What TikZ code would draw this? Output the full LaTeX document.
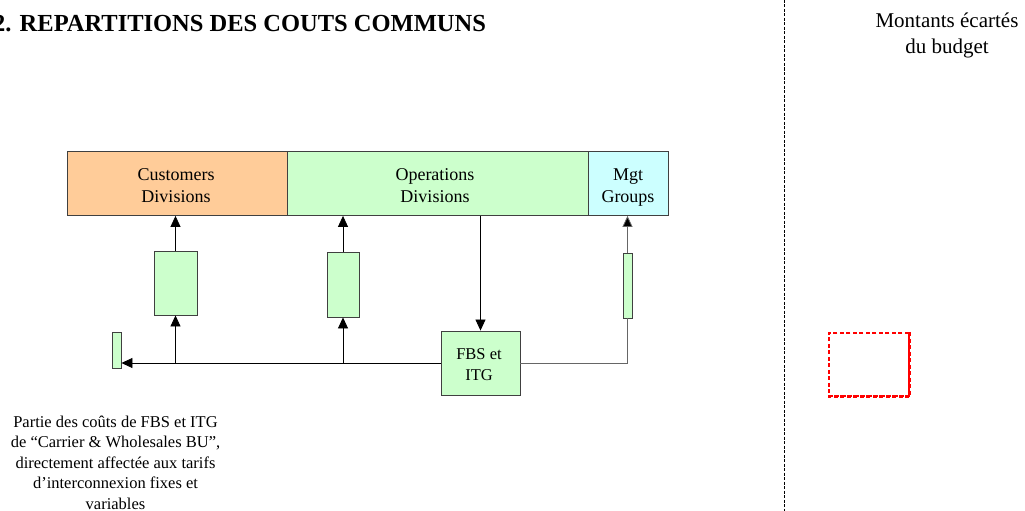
\documentclass[tikz,border=0pt]{standalone}
\usepackage{fontspec}
\setmainfont{Liberation Serif}
\usetikzlibrary{arrows.meta}

\definecolor{custorange}{HTML}{FFCC99}
\definecolor{opsgreen}{HTML}{CCFFCC}
\definecolor{mgtcyan}{HTML}{CCFFFF}
\definecolor{edgegray}{HTML}{404040}

\tikzset{
  unitbox/.style={draw=edgegray, line width=0.9pt, inner sep=0pt, anchor=north west},
  flowbox/.style={draw=edgegray, line width=0.9pt, fill=opsgreen, inner sep=0pt},
  link/.style={line width=0.8pt, draw=black},
  arr/.style={link, -{Triangle[length=11pt,width=10pt]}},
  boxtext/.style={anchor=base, align=center, inner sep=0pt, font=\fontsize{18}{22}\selectfont},
  smalltext/.style={anchor=base, align=center, inner sep=0pt, font=\fontsize{16.5}{20.5}\selectfont},
}

\begin{document}
\begin{tikzpicture}[x=1pt,y=-1pt]
\useasboundingbox (0,0) rectangle (1025,511);

% heading (its number runs into the left edge)
\node[anchor=base west, inner sep=0pt, font=\fontsize{24.5}{28}\selectfont\bfseries] (title) at (-7,32)
  {2. REPARTITIONS DES COUTS COMMUNS};

% top row of divisions
\node[unitbox, fill=custorange, minimum width=220pt, minimum height=64pt] (cust) at (67,151) {};
\node[unitbox, fill=opsgreen,   minimum width=301pt, minimum height=64pt] (ops)  at (287,151) {};
\node[unitbox, fill=mgtcyan,    minimum width=80pt,  minimum height=64pt] (mgt)  at (588,151) {};
% multi-line labels: the base anchor sits on the last line
\node[boxtext] (custlbl) at (176,202) {Customers\\Divisions};
\node[boxtext] (opslbl)  at (435,202) {Operations\\Divisions};
\node[boxtext] (mgtlbl)  at (628,202) {Mgt\\Groups};

% allocation boxes
\node[flowbox, minimum width=43pt, minimum height=64pt] (b1) at (175.5,283) {};
\node[flowbox, minimum width=32pt, minimum height=65pt] (b2) at (343,284.5) {};
\node[flowbox, minimum width=9pt,  minimum height=65pt] (b3) at (627.5,285.5) {};
\node[flowbox, minimum width=9pt,  minimum height=36pt] (b0) at (116.5,350) {};
\node[flowbox, minimum width=79pt, minimum height=64pt] (fbs) at (480.5,363) {};
\node[smalltext] (fbslbl) at (479,380) {FBS et\\ITG};

% junctions on the distribution line
\coordinate (j1) at (b1.south |- fbs.west);
\coordinate (j2) at (b2.south |- fbs.west);

% connectors
\draw[arr] (fbs.north |- ops.south) -- (fbs.north);
\draw[link] (fbs.west) -- (j2);
\draw[arr] (j2) -- (b0.east |- fbs.west);
\draw[arr] (j1) -- (b1.south);
\draw[arr] (j2) -- (b2.south);
\draw[arr] (b1.north) -- (b1.north |- cust.south);
\draw[arr] (b2.north) -- (b2.north |- ops.south);
\draw[link, draw=edgegray!80] (fbs.east) -- (fbs.east -| b3.south) -- (b3.south);
\draw[link, draw=edgegray!80, -{Triangle[length=11pt,width=10pt,fill=black]}] (b3.north) -- (b3.north |- mgt.south);

% note under the left bar
\node[smalltext] (note) at (115.5,509)
  {Partie des coûts de FBS et ITG\\de “Carrier \& Wholesales BU”,\\directement affectée aux tarifs\\d’interconnexion fixes et\\variables};

% separator and excluded amounts
\coordinate (septop) at (784,0);
\coordinate (sepbot) at (784,511);
\draw[line width=0.8pt, dash pattern=on 3pt off 1.5pt] (septop) -- (sepbot);
\node[anchor=base, align=center, inner sep=0pt, font=\fontsize{21}{25}\selectfont] (excl) at (947,53)
  {Montants écartés\\du budget};

\node[draw=red, line width=1.5pt, dash pattern=on 4pt off 2.5pt, minimum width=80pt, minimum height=63pt,
      inner sep=0pt, anchor=north west] (redbox) at (828,332) {};
\draw[red, line width=2.5pt, dash pattern=on 4pt off 2.5pt] (redbox.north east) -- (redbox.south east) -- (redbox.south west);
\end{tikzpicture}
\end{document}
